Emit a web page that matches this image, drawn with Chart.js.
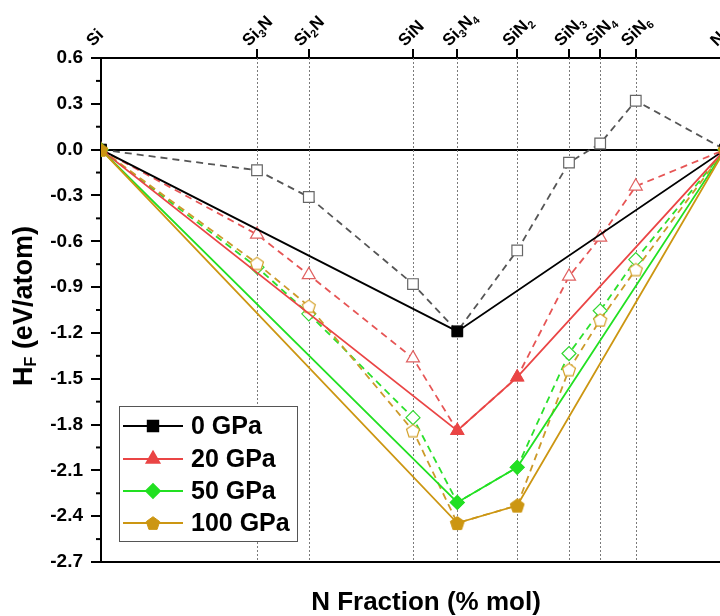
<!DOCTYPE html>
<html>
<head>
<meta charset="utf-8">
<title>Si-N convex hull</title>
<script src="https://cdn.jsdelivr.net/npm/chart.js@4.4.1/dist/chart.umd.min.js"></script>
<style>
  html, body { margin: 0; padding: 0; background: #fff; overflow: hidden; }
  #wrap { width: 740px; height: 616px; }
</style>
</head>
<body>
<div id="wrap"><canvas id="hullChart" width="740" height="616"></canvas></div>
<script>
// Phases along the Si-N line and their N atomic fraction
const phases = ['Si', 'Si3N', 'Si2N', 'SiN', 'Si3N4', 'SiN2', 'SiN3', 'SiN4', 'SiN6', 'N'];
const nFraction = [0, 0.25, 0.333, 0.5, 0.571, 0.667, 0.75, 0.8, 0.857, 1];

// Formation enthalpy (eV/atom) of every phase at each pressure
const hf0 = [0, -0.135, -0.31, -0.88, -1.19, -0.66, -0.085, 0.04, 0.32, 0];
const hf20 = [0, -0.555, -0.82, -1.365, -1.84, -1.49, -0.83, -0.575, -0.24, 0];
const hf50 = [0, -0.77, -1.075, -1.755, -2.31, -2.08, -1.335, -1.055, -0.72, 0];
const hf100 = [0, -0.745, -1.025, -1.84, -2.445, -2.33, -1.44, -1.115, -0.785, 0];

// Phases on the convex hull
const hull0 = ['Si', 'Si3N4', 'N'];
const hullHigh = ['Si', 'Si3N4', 'SiN2', 'N'];

const yTicks = [0.6, 0.3, 0.0, -0.3, -0.6, -0.9, -1.2, -1.5, -1.8, -2.1, -2.4, -2.7];

const FONT = '"Liberation Sans", Arial, sans-serif';

function pentagon(size, fill, stroke, lw) {
  const c = document.createElement('canvas');
  c.width = c.height = size;
  const g = c.getContext('2d');
  const r = size / 2 - lw;
  g.beginPath();
  for (let k = 0; k < 5; k++) {
    const a = -Math.PI / 2 + k * 2 * Math.PI / 5;
    const px = size / 2 + r * Math.cos(a);
    const py = size / 2 + r * Math.sin(a) + r * 0.1;
    if (k) g.lineTo(px, py); else g.moveTo(px, py);
  }
  g.closePath();
  if (fill) { g.fillStyle = fill; g.fill(); }
  if (stroke) { g.strokeStyle = stroke; g.lineWidth = lw; g.stroke(); }
  return c;
}

const pentFilled = pentagon(16, '#CC9612', '#CC9612', 1);
const pentOpen = pentagon(16, '#fff', '#D29E22', 1.2);

function allPoints(values) {
  return nFraction.map((x, i) => ({ x: x, y: values[i] }));
}
function hullPoints(values, names) {
  return names.map(n => {
    const i = phases.indexOf(n);
    return { x: nFraction[i], y: values[i] };
  });
}

const series = [
  { label: '0 GPa', color: '#000000', open: '#666666', dash: '#555555', style: 'rect', radius: 7.5, values: hf0, hull: hull0 },
  { label: '20 GPa', color: '#EA4545', open: '#E06060', dash: '#E65555', style: 'triangle', radius: 7.5, values: hf20, hull: hullHigh },
  { label: '50 GPa', color: '#22E022', open: '#33D833', dash: '#2CE02C', style: 'rectRot', radius: 7, values: hf50, hull: hullHigh },
  { label: '100 GPa', color: '#CC9612', open: '#D29E22', dash: '#CC9A2A', style: 'pent', radius: 7, values: hf100, hull: hullHigh },
];

const datasets = [];
series.forEach((s, k) => {
  // hull (solid, filled markers)
  datasets.push({
    label: s.label,
    data: hullPoints(s.values, s.hull),
    showLine: true,
    borderColor: s.color,
    borderWidth: 1.8,
    pointStyle: s.style === 'pent' ? pentFilled : s.style,
    pointRadius: s.radius,
    pointBackgroundColor: s.color,
    pointBorderColor: s.color,
    pointBorderWidth: 1,
    order: 4 - k,
  });
  // all phases (dashed, open markers)
  datasets.push({
    label: s.label + ' all',
    data: allPoints(s.values),
    showLine: true,
    borderColor: s.dash,
    borderWidth: 1.8,
    borderDash: [7, 5],
    pointStyle: s.style === 'pent' ? pentOpen : s.style,
    pointRadius: s.radius,
    pointBackgroundColor: '#fff',
    pointBorderColor: s.open,
    pointBorderWidth: 1.2,
    order: 8 - k,
  });
});

function drawFormula(ctx, text, x, y, size) {
  const parts = text.match(/[A-Za-z]+|\d+/g);
  let dx = x;
  parts.forEach(p => {
    const sub = /\d/.test(p);
    ctx.font = 'bold ' + (sub ? Math.round(size * 0.62) : size) + 'px ' + FONT;
    ctx.fillText(p, dx, y + (sub ? size * 0.22 : 0));
    dx += ctx.measureText(p).width;
  });
}

const decor = {
  id: 'decor',
  beforeDatasetsDraw(chart) {
    const { ctx, chartArea: a, scales: { x } } = chart;
    ctx.save();
    ctx.strokeStyle = '#7a7a7a';
    ctx.lineWidth = 1;
    ctx.setLineDash([2, 2]);
    nFraction.forEach(v => {
      if (v <= 0 || v >= 1) return;
      const px = Math.round(x.getPixelForValue(v)) + 0.5;
      ctx.beginPath();
      ctx.moveTo(px, a.top);
      ctx.lineTo(px, a.bottom);
      ctx.stroke();
    });
    ctx.restore();
  },
  afterDraw(chart) {
    const { ctx, chartArea: a, scales: { x, y } } = chart;
    ctx.save();

    // minor ticks on the energy axis
    ctx.strokeStyle = '#000';
    ctx.lineWidth = 2;
    for (let i = 0; i < yTicks.length - 1; i++) {
      const py = y.getPixelForValue((yTicks[i] + yTicks[i + 1]) / 2);
      ctx.beginPath();
      ctx.moveTo(a.left - 5, py);
      ctx.lineTo(a.left, py);
      ctx.stroke();
    }

    // phase names along the top
    ctx.fillStyle = '#000';
    ctx.textAlign = 'left';
    ctx.textBaseline = 'alphabetic';
    phases.forEach((name, i) => {
      const px = x.getPixelForValue(nFraction[i]);
      ctx.save();
      ctx.translate(px - 8, a.top - 11);
      ctx.rotate(-Math.PI / 4);
      drawFormula(ctx, name, 0, 0, 17);
      ctx.restore();
    });

    // axis titles
    ctx.textBaseline = 'middle';
    ctx.textAlign = 'center';
    ctx.font = 'bold 26px ' + FONT;
    ctx.fillText('N Fraction (% mol)', 426, 603);

    ctx.save();
    ctx.translate(25, 306);
    ctx.rotate(-Math.PI / 2);
    ctx.textAlign = 'left';
    const big = 'bold 27px ' + FONT, small = 'bold 16px ' + FONT;
    ctx.font = big;
    const wH = ctx.measureText('H').width, wRest = ctx.measureText(' (eV/atom)').width;
    ctx.font = small;
    const wF = ctx.measureText('F').width;
    const sx = -(wH + wF + wRest) / 2;
    ctx.font = big;
    ctx.fillText('H', sx, 0);
    ctx.font = small;
    ctx.fillText('F', sx + wH, 7);
    ctx.font = big;
    ctx.fillText(' (eV/atom)', sx + wH + wF, 0);
    ctx.restore();

    // legend
    const lx = 119.5, ly = 406.5, lw = 178, lh = 135;
    ctx.fillStyle = '#fff';
    ctx.fillRect(lx, ly, lw, lh);
    ctx.strokeStyle = '#555';
    ctx.lineWidth = 1;
    ctx.strokeRect(lx, ly, lw, lh);
    const rows = [426, 459, 491, 523];
    series.forEach((s, k) => {
      const ry = rows[k];
      ctx.strokeStyle = s.color;
      ctx.lineWidth = 1.8;
      ctx.beginPath();
      ctx.moveTo(123, ry);
      ctx.lineTo(183, ry);
      ctx.stroke();
      ctx.fillStyle = s.color;
      Chart.helpers.drawPoint(ctx, {
        pointStyle: s.style === 'pent' ? pentFilled : s.style,
        radius: s.radius,
        rotation: 0,
        borderWidth: 1,
      }, 153, ry);
      ctx.fillStyle = '#000';
      ctx.textAlign = 'left';
      ctx.textBaseline = 'middle';
      ctx.font = 'bold 25px ' + FONT;
      ctx.fillText(s.label, 191, ry + 1);
    });
    ctx.restore();
  },
};

new Chart(document.getElementById('hullChart'), {
  type: 'scatter',
  data: { datasets: datasets },
  options: {
    responsive: false,
    animation: false,
    layout: { padding: { left: 0, right: 15, top: 0, bottom: 0 } },
    plugins: { legend: { display: false }, tooltip: { enabled: false } },
    elements: { line: { tension: 0 } },
    scales: {
      x: {
        type: 'linear',
        position: 'bottom',
        min: 0,
        max: 1,
        ticks: { display: false },
        grid: { display: false },
        border: { display: true, color: '#000', width: 2 },
        afterFit: s => { s.height = 54; },
      },
      x2: {
        type: 'linear',
        position: 'top',
        min: 0,
        max: 1,
        ticks: { display: false },
        afterBuildTicks: s => {
          s.ticks = nFraction.filter(v => v > 0 && v < 1).map(v => ({ value: v }));
        },
        grid: {
          drawOnChartArea: false,
          drawTicks: true,
          tickLength: 9,
          color: '#000',
          lineWidth: 2,
        },
        border: { display: true, color: '#000', width: 2 },
        afterFit: s => { s.height = 58; },
      },
      y: {
        type: 'linear',
        min: -2.7,
        max: 0.6,
        afterBuildTicks: s => {
          s.ticks = yTicks.map(v => ({ value: v }));
        },
        ticks: {
          color: '#000',
          padding: 8,
          font: { family: FONT, size: 19, weight: 'bold' },
          callback: v => v.toFixed(1),
        },
        grid: {
          drawOnChartArea: true,
          color: c => (c.tick && Math.abs(c.tick.value) < 1e-9 ? '#000' : 'rgba(0,0,0,0)'),
          lineWidth: 2,
          tickLength: 10,
          tickColor: '#000',
          tickWidth: 2,
        },
        border: { display: true, color: '#000', width: 2 },
        afterFit: s => { s.width = 101; },
      },
    },
  },
  plugins: [decor],
});
</script>
</body>
</html>
